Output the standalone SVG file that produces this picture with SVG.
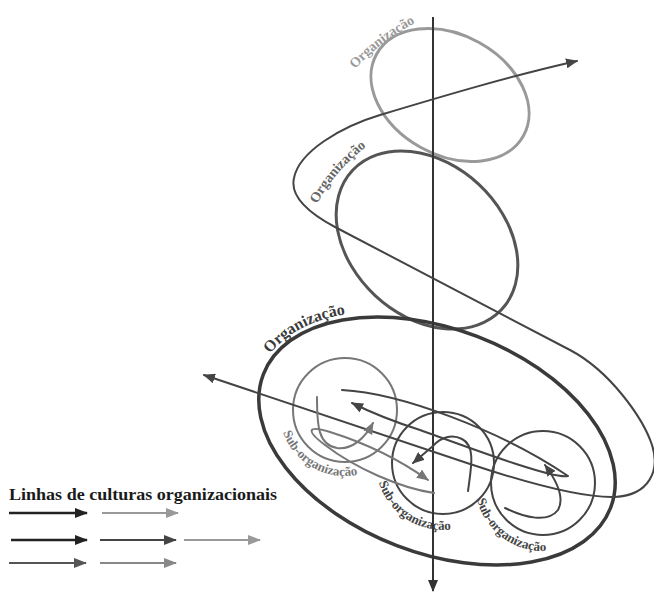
<svg xmlns="http://www.w3.org/2000/svg" width="654" height="592" viewBox="0 0 654 592">
<style>
.lbl{font-family:"Liberation Serif","DejaVu Serif",serif;font-weight:bold}
.ln{fill:none;stroke-linecap:round;stroke-linejoin:round}
</style>
<defs>
<marker id="a333" viewBox="0 0 12 10" refX="11" refY="5" markerWidth="12" markerHeight="10" markerUnits="userSpaceOnUse" orient="auto-start-reverse"><path d="M0,0 L12,5 L0,10 z" fill="#333"/></marker>
<marker id="a444" viewBox="0 0 12 10" refX="11" refY="5" markerWidth="12" markerHeight="10" markerUnits="userSpaceOnUse" orient="auto-start-reverse"><path d="M0,0 L12,5 L0,10 z" fill="#444"/></marker>
<marker id="a777" viewBox="0 0 12 10" refX="11" refY="5" markerWidth="12" markerHeight="10" markerUnits="userSpaceOnUse" orient="auto-start-reverse"><path d="M0,0 L12,5 L0,10 z" fill="#777"/></marker>
<marker id="l222" viewBox="0 0 13 10" refX="12" refY="5" markerWidth="13" markerHeight="10" markerUnits="userSpaceOnUse" orient="auto"><path d="M0,0 L13,5 L0,10 z" fill="#222"/></marker>
<marker id="l444" viewBox="0 0 13 10" refX="12" refY="5" markerWidth="13" markerHeight="10" markerUnits="userSpaceOnUse" orient="auto"><path d="M0,0 L13,5 L0,10 z" fill="#444"/></marker>
<marker id="l555" viewBox="0 0 13 10" refX="12" refY="5" markerWidth="13" markerHeight="10" markerUnits="userSpaceOnUse" orient="auto"><path d="M0,0 L13,5 L0,10 z" fill="#555"/></marker>
<marker id="l888" viewBox="0 0 13 10" refX="12" refY="5" markerWidth="13" markerHeight="10" markerUnits="userSpaceOnUse" orient="auto"><path d="M0,0 L13,5 L0,10 z" fill="#888"/></marker>
<marker id="l999" viewBox="0 0 13 10" refX="12" refY="5" markerWidth="13" markerHeight="10" markerUnits="userSpaceOnUse" orient="auto"><path d="M0,0 L13,5 L0,10 z" fill="#999"/></marker>
<path id="tp1" d="M355,69 Q383,38 427,17"/>
<path id="tp2" d="M317,204 Q337,166 377,139"/>
<path id="tp3" d="M270,354 Q300,317 364,312"/>
<path id="tp4" d="M283,432.6 A66,66 0 0 0 367.6,472"/>
<path id="tp5" d="M378.9,482.6 A67,67 0 0 0 456.9,528.5"/>
<path id="tp6" d="M477,499.5 A68,68 0 0 0 554.8,550"/>
</defs>
<rect width="654" height="592" fill="#fff"/>

<g id="org-top">
<ellipse cx="450" cy="95" rx="84" ry="60" transform="rotate(29 450 95)" fill="none" stroke="#999" stroke-width="3"/>
<text class="lbl" font-size="14" fill="#999"><textPath href="#tp1">Organização</textPath></text>
</g>
<g id="org-mid">
<ellipse cx="427" cy="240" rx="102" ry="76" transform="rotate(43 427 240)" fill="none" stroke="#555" stroke-width="3"/>
<text class="lbl" font-size="14" fill="#666"><textPath href="#tp2">Organização</textPath></text>
</g>
<g id="org-big">
<ellipse cx="437" cy="441" rx="186" ry="112" transform="rotate(21 437 441)" fill="none" stroke="#3a3a3a" stroke-width="3.5"/>
<text class="lbl" font-size="16" fill="#3a3a3a"><textPath href="#tp3">Organização</textPath></text>
</g>
<g id="sub-left">
<circle cx="345" cy="410" r="52" fill="none" stroke="#777" stroke-width="2"/>
<text class="lbl" font-size="13" fill="#777"><textPath href="#tp4">Sub-organização</textPath></text>
</g>
<g id="sub-mid">
<circle cx="443" cy="463" r="51" fill="none" stroke="#444" stroke-width="2"/>
<text class="lbl" font-size="13" fill="#444"><textPath href="#tp5">Sub-organização</textPath></text>
</g>
<g id="sub-right">
<circle cx="543" cy="483" r="52" fill="none" stroke="#444" stroke-width="2"/>
<text class="lbl" font-size="13" fill="#444"><textPath href="#tp6">Sub-organização</textPath></text>
</g>

<g id="connectors">
<line x1="433" y1="17" x2="433" y2="591" stroke="#333" stroke-width="2" marker-end="url(#a333)"/>
<path class="ln" stroke="#444" stroke-width="2" marker-start="url(#a444)" marker-end="url(#a444)" d="M204,375 L470,464 C530,484 585,498 615,497 C650,495 660,470 652,445 C643,418 610,371 570,350 L335,227 C305,211 290,195 294,178 C299,152 340,127 380,115 C440,97 510,76 577,61"/>
<path class="ln" stroke="#444" stroke-width="2" marker-end="url(#a444)" d="M342,390 C400,393 500,430 568,476 C555,480 470,448 420,430 C395,422 370,412 352,403"/>
<path class="ln" stroke="#777" stroke-width="2" marker-end="url(#a777)" d="M317,397 C317,425 318,445 337,448 C352,450 365,438 373,423"/>
<path class="ln" stroke="#777" stroke-width="2" marker-end="url(#a777)" d="M434,493 C400,488 355,468 325,445 C305,430 308,425 330,432 C365,443 400,460 428,480"/>
<path class="ln" stroke="#444" stroke-width="2" marker-end="url(#a444)" d="M468,491 C471,468 476,446 462,439 C452,434 441,437 433,446 L413,463"/>
<path class="ln" stroke="#444" stroke-width="2" marker-end="url(#a444)" d="M505,508 C525,518 548,523 558,510 C565,498 556,480 545,465"/>
</g>

<g id="legend">
<text class="lbl" x="9" y="500" font-size="17" fill="#1a1a1a" textLength="268" lengthAdjust="spacingAndGlyphs">Linhas de culturas organizacionais</text>
<line x1="9" y1="513" x2="87" y2="513" stroke="#222" stroke-width="2.5" marker-end="url(#l222)"/>
<line x1="102" y1="513" x2="178" y2="513" stroke="#999" stroke-width="2" marker-end="url(#l999)"/>
<line x1="11" y1="540" x2="87" y2="540" stroke="#222" stroke-width="2.5" marker-end="url(#l222)"/>
<line x1="100" y1="540" x2="176" y2="540" stroke="#444" stroke-width="2" marker-end="url(#l444)"/>
<line x1="184" y1="540" x2="260" y2="540" stroke="#999" stroke-width="2" marker-end="url(#l999)"/>
<line x1="9" y1="563" x2="86" y2="563" stroke="#555" stroke-width="2" marker-end="url(#l555)"/>
<line x1="100" y1="563" x2="176" y2="563" stroke="#888" stroke-width="2" marker-end="url(#l888)"/>
</g>
</svg>
